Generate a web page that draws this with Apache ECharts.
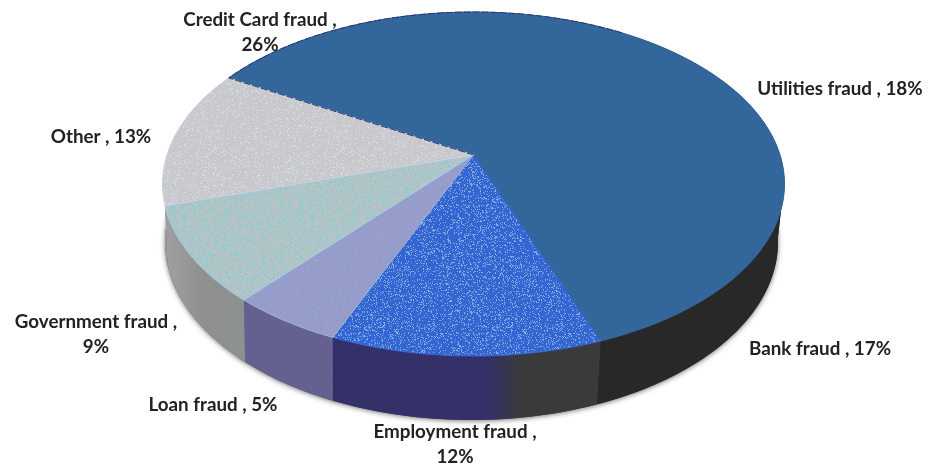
<!DOCTYPE html>
<html>
<head>
<meta charset="utf-8" />
<title>Fraud types</title>
<style type="text/css">
html,body{height:100%;margin:0;padding:0;background:#fff}
#chart{width:932px;height:466px;filter:blur(0.45px)}
</style>
<script src="https://cdn.jsdelivr.net/npm/echarts@6/dist/echarts.min.js"></script>
</head>
<body>
<div id="chart"></div>
<script type="text/javascript">
// slices, clockwise from the upper left edge
var categories = ['Credit Card fraud','Utilities fraud','Bank fraud','Employment fraud','Loan fraud','Government fraud','Other'];
var shares = [26,18,17,12,5,9,13];
var wrapLabel = [true,false,false,true,false,true,false];

// colours of each slice: top face, stipple dots, side wall
var topColors = ['#33669a','#33669a','#33669a','#3565d2','#9a9cca','#b9c3c4','#c9c9cc'];
var dotColors = [null,null,null,'#7cb0e0','#7f9fd0','#86ccd4','#d6deee'];
var dotSpacing = [0,0,0,6,7,4,9];
var wallColors = ['#282828','#282828','#282828',null,'#64608f',null,'#a0a0a0'];
var edgeColors = [null,null,null,null,'#9fb4dc','#a6cdea','#c9d2e6'];

// label centres, in page pixels
var labelX = [260,840,820,455,213,96,101];
var labelY = [32,89,349,444,405,334,137];

// the pie is a tilted disc, so its top and bottom outlines are ellipses and
// the centre of the disc sits above the centre of the ellipse
var topOval = {cx:473.5, cy:184, rx:311, ry:172};
var bottomOval = {cx:471.5, cy:242, rx:306.5, ry:178};
var tilt = -0.169;
var startAngle = 210;

function project(oval, deg, r){
	var a = deg*Math.PI/180;
	var u = Math.cos(a)*r, v = Math.sin(a)*r;
	var w = 1+tilt*v;
	return [oval.cx+oval.rx*Math.sqrt(1-tilt*tilt)*u/w, oval.cy+oval.ry*(v+tilt)/w];
}

function arcPoints(oval, from, to){
	var pts = [];
	var n = Math.max(2,Math.ceil((to-from)/1.5));
	for(var i=0;i<=n;i++){
		pts.push(project(oval,from+(to-from)*i/n,1));
	}
	return pts;
}

// fixed speckle texture for the glossy looking slices
function makeStipple(base, dot, spacing){
	var size = 128;
	var c = document.createElement('canvas');
	c.width = size;
	c.height = size;
	var ctx = c.getContext('2d');
	ctx.fillStyle = base;
	ctx.fillRect(0,0,size,size);
	ctx.fillStyle = dot;
	for(var y=0;y<size;y++){
		for(var x=0;x<size;x++){
			var h = Math.imul(x,374761393)+Math.imul(y,668265263);
			h = Math.imul(h^(h>>>13),1274126177);
			h = (h^(h>>>16))>>>0;
			if(h%spacing==0){
				ctx.fillRect(x,y,1,1);
			}
		}
	}
	return {image:c, repeat:'repeat'};
}

// value rows for the custom series: [from share, to share]
var sliceRows = [];
var running = 0;
shares.forEach(function(s){
	sliceRows.push([running,running+s]);
	running += s;
});
var labelRows = categories.map(function(name,i){
	return [labelX[i],labelY[i],name+' ,'+(wrapLabel[i]?'\n':' ')+shares[i]+'%'];
});

function toPixels(api,pts){
	return pts.map(function(p){return api.coord(p);});
}

function sideFill(i){
	if(i==3){
		return new echarts.graphic.LinearGradient(0,0,1,0,[
			{offset:0,color:'#33306a'},
			{offset:0.58,color:'#33306a'},
			{offset:0.7,color:'#3a3a3c'},
			{offset:1,color:'#3a3a3a'}
		]);
	}
	if(i==5){
		return new echarts.graphic.LinearGradient(0,0,1,0,[
			{offset:0,color:'#a0a0a0'},
			{offset:0.5,color:'#8f8f8f'},
			{offset:1,color:'#8c9291'}
		]);
	}
	return wallColors[i];
}

var topFills = topColors.map(function(c,i){
	return dotColors[i]?makeStipple(c,dotColors[i],dotSpacing[i]):c;
});

var option = {
	animation:false,
	grid:{left:0,right:0,top:0,bottom:0},
	xAxis:{type:'value',min:0,max:932,show:false},
	yAxis:{type:'value',min:0,max:466,inverse:true,show:false},
	series:[
		{
			// soft shadow round the foot of the pie
			type:'custom',
			silent:true,
			data:[[0]],
			renderItem:function(params,api){
				return {
					type:'polygon',
					shape:{points:toPixels(api,arcPoints(bottomOval,0,360))},
					style:{fill:'#555',shadowBlur:5,shadowColor:'rgba(60,60,60,0.7)',shadowOffsetY:1}
				};
			}
		},
		{
			// side walls
			type:'custom',
			silent:true,
			data:sliceRows,
			renderItem:function(params,api){
				var i = params.dataIndex;
				var from = startAngle+api.value(0)*3.6, to = startAngle+api.value(1)*3.6;
				var pts = arcPoints(topOval,from,to).concat(arcPoints(bottomOval,from,to).reverse());
				return {type:'polygon',shape:{points:toPixels(api,pts)},style:{fill:sideFill(i)}};
			}
		},
		{
			// top faces
			type:'custom',
			silent:true,
			data:sliceRows,
			renderItem:function(params,api){
				var i = params.dataIndex;
				var from = startAngle+api.value(0)*3.6, to = startAngle+api.value(1)*3.6;
				var pts = [project(topOval,0,0)].concat(arcPoints(topOval,from,to));
				return {
					type:'polygon',
					shape:{points:toPixels(api,pts)},
					style:{fill:topFills[i],stroke:edgeColors[i]||topColors[i],lineWidth:1}
				};
			}
		},
		{
			// dark dashed edge along the first slice only
			type:'custom',
			silent:true,
			data:[sliceRows[0]],
			renderItem:function(params,api){
				var from = startAngle+api.value(0)*3.6, to = startAngle+api.value(1)*3.6;
				var pts = [project(topOval,0,0)].concat(arcPoints(topOval,from,to));
				return {
					type:'polyline',
					shape:{points:toPixels(api,pts)},
					style:{fill:null,stroke:'#2a3570',lineWidth:1,lineDash:[7,2]}
				};
			}
		},
		{
			type:'custom',
			silent:true,
			data:labelRows,
			encode:{x:0,y:1},
			renderItem:function(params,api){
				var p = api.coord([api.value(0),api.value(1)]);
				return {
					type:'text',
					x:p[0],
					y:p[1],
					style:{
						text:labelRows[params.dataIndex][2],
						fill:'#222',
						font:'bold 18.8px Lato',
						lineHeight:25,
						align:'center',
						verticalAlign:'middle'
					}
				};
			}
		}
	]
};
echarts.init(document.getElementById('chart'),null,{renderer:'canvas'}).setOption(option);
</script>
</body>
</html>
